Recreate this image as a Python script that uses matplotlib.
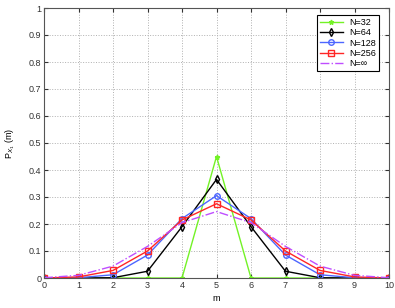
import matplotlib
matplotlib.use("Agg")
import matplotlib.pyplot as plt
import numpy as np

plt.rcParams['font.family'] = ['Liberation Sans', 'DejaVu Sans']
plt.rcParams['font.size'] = 6.5

m = np.arange(0, 11)
p32 = [0, 0, 0, 0, 0, 0.45, 0, 0, 0, 0, 0]
p64 = [0, 0, 0.001, 0.025, 0.19, 0.365, 0.19, 0.025, 0.001, 0, 0]
p128 = [0, 0.001, 0.012, 0.085, 0.22, 0.305, 0.22, 0.085, 0.012, 0.001, 0]
p256 = [0, 0.004, 0.028, 0.10, 0.215, 0.275, 0.215, 0.10, 0.028, 0.004, 0]
pinf = [0.001, 0.0098, 0.044, 0.117, 0.205, 0.246, 0.205, 0.117, 0.044, 0.0098, 0.001]

fig = plt.figure(figsize=(3.95, 3.08), dpi=100)
ax = fig.add_axes([44/395, 30/308, 345/395, 270/308])

ax.plot(m, p32, color=(0.45, 0.95, 0.15), marker='*', ms=3.5, lw=1, label='N=32')
ax.plot(m, p64, color='black', marker='d', ms=4, mfc='none', lw=1, label='N=64')
ax.plot(m, p128, color=(0.3, 0.4, 1.0), marker='o', ms=4, mfc='none', lw=1, label='N=128')
ax.plot(m, p256, color=(1.0, 0.15, 0.15), marker='s', ms=4, mfc='none', lw=1, label='N=256')
ax.plot(m, pinf, color=(0.75, 0.3, 1.0), ls='-.', lw=1, label='N=\u221e')

ax.set_xlim(0, 10)
ax.set_ylim(0, 1)
ax.set_xticks(range(0, 11))
ax.set_yticks(np.arange(0, 1.01, 0.1))
ax.set_yticklabels(['0'] + ['%.1f' % v for v in np.arange(0.1, 0.95, 0.1)] + ['1'])
ax.grid(True, ls=':', color='#b0b0b0', lw=0.7)
ax.tick_params(direction='in', length=3, pad=2, colors='#333333', top=True, right=True)
for s in ax.spines.values():
    s.set_color('#555555')
ax.set_xlabel('m', labelpad=3)
ax.set_ylabel(r'P$_{X_1}$ (m)', labelpad=8)
leg = ax.legend(loc='upper right', fancybox=False, edgecolor='black', framealpha=1,
                handlelength=2.5, borderpad=0.3, labelspacing=0.15,
                bbox_to_anchor=(0.985, 0.99))
leg.get_frame().set_linewidth(0.8)

fig.savefig('out.png', dpi=100)
